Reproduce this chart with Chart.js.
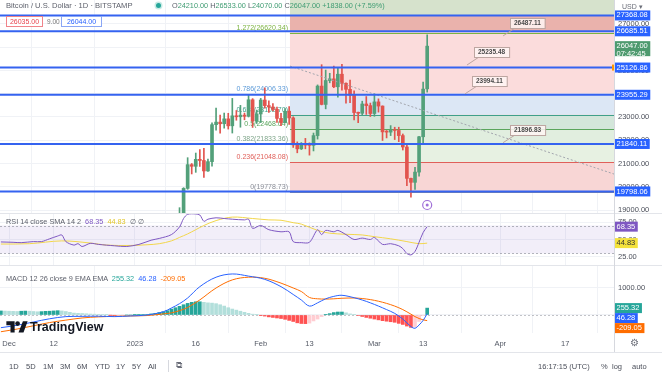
<!DOCTYPE html>
<html>
<head>
<meta charset="utf-8">
<title>BTCUSD 1D</title>
<script src="https://cdn.jsdelivr.net/npm/chart.js@4.4.1/dist/chart.umd.min.js"></script>
<style>
  html, body { margin: 0; padding: 0; background: #fff; }
  #wrap { position: relative; width: 662px; height: 379px; overflow: hidden; font-family: "Liberation Sans", Arial, sans-serif; color: #5d606b; }
  canvas { position: absolute; left: 0; }
  .abs { position: absolute; white-space: nowrap; line-height: 10px; }
  .up { color: #3f9c72; }
  .hline { position: absolute; height: 1px; background: #e3e5ea; }
  .tb { position: absolute; top: 362px; font-size: 7.5px; color: #4a4e59; }
</style>
</head>
<body>
<div id="wrap">
  <canvas id="price" width="662" height="219" style="top:0"></canvas>
  <canvas id="rsi" width="662" height="52" style="top:213px"></canvas>
  <canvas id="macd" width="662" height="87" style="top:265px"></canvas>

  <div class="hline" style="left:0;top:213px;width:662px"></div>
  <div class="hline" style="left:0;top:265px;width:662px"></div>
  <div class="hline" style="left:0;top:352px;width:662px"></div>

  <!-- header -->
  <div class="abs" style="left:6px;top:1px;font-size:7.6px">Bitcoin / U.S. Dollar · 1D · BITSTAMP</div>
  <div class="abs" style="left:156px;top:3px;width:5px;height:5px;border-radius:50%;background:#26a69a;box-shadow:0 0 0 1.5px #c8ebe5"></div>
  <div class="abs" style="left:172px;top:1px;font-size:7.3px">O<span class="up">24210.00</span> H<span class="up">26533.00</span> L<span class="up">24070.00</span> C<span class="up">26047.00</span> <span class="up">+1838.00 (+7.59%)</span></div>
  <div class="abs" style="left:6px;top:16px;width:35px;height:9px;border:1px solid #f0838a;background:#fff;color:#e8434e;font-size:7px;text-align:center;line-height:9px">26035.00</div>
  <div class="abs" style="left:47px;top:17px;font-size:6.5px;color:#777">9.00</div>
  <div class="abs" style="left:61px;top:16px;width:39px;height:9px;border:1px solid #8aa6f5;background:#fff;color:#2962ff;font-size:7px;text-align:center;line-height:9px">26044.00</div>
  <div class="abs" style="left:622px;top:2px;font-size:7px;color:#6a6d78">USD ▾</div>

  <!-- indicator legends -->
  <div class="abs" style="left:6px;top:217px;font-size:7.3px">RSI 14 close SMA 14 2 &nbsp;<span style="color:#7e57c2">68.35</span> &nbsp;<span style="color:#e2c62c">44.83</span> &nbsp;∅ ∅</div>
  <div class="abs" style="left:6px;top:274px;font-size:7.3px">MACD 12 26 close 9 EMA EMA &nbsp;<span style="color:#26a69a">255.32</span> &nbsp;<span style="color:#2962ff">46.28</span> &nbsp;<span style="color:#ff6d00">-209.05</span></div>

  <!-- logo -->
  <div class="abs" style="left:6px;top:320px;height:14px">
    <svg width="22" height="13" viewBox="0 0 36 22" style="vertical-align:top">
      <path d="M14 21H7V9H0V2h14v19zM29 21h-8.5L28 2h8z" fill="#131722"/>
      <circle cx="19" cy="6" r="4" fill="#131722"/>
    </svg>
  </div>
  <div class="abs" style="left:30px;top:320px;font-size:12.5px;font-weight:bold;color:#131722;line-height:14px">TradingView</div>

  <div class="abs" style="left:630px;top:338px;font-size:10px;color:#6a6d78">⚙</div>
  <div class="abs" style="left:614px;top:0;width:1px;height:352px;background:#d6d8de"></div>

  <!-- bottom toolbar -->
  <div class="tb" style="left:9px">1D</div>
  <div class="tb" style="left:26px">5D</div>
  <div class="tb" style="left:43px">1M</div>
  <div class="tb" style="left:60px">3M</div>
  <div class="tb" style="left:77px">6M</div>
  <div class="tb" style="left:95px">YTD</div>
  <div class="tb" style="left:116px">1Y</div>
  <div class="tb" style="left:132px">5Y</div>
  <div class="tb" style="left:148px">All</div>
  <div class="abs" style="left:168px;top:360px;width:1px;height:12px;background:#d6d8de"></div>
  <div class="tb" style="left:176px;font-size:9px;top:360px;color:#6a6d78">⧉</div>
  <div class="tb" style="left:538px">16:17:15 (UTC)</div>
  <div class="tb" style="left:601px">%</div>
  <div class="tb" style="left:612px">log</div>
  <div class="tb" style="left:632px">auto</div>
</div>

<script>
// x values are days counted from 1 Dec 2022
const candleDays = [42,43,44,45,46,47,48,49,50,51,52,53,54,55,56,57,58,59,60,61,62,63,64,65,66,67,68,69,70,71,72,73,74,75,76,77,78,79,80,81,82,83,84,85,86,87,88,89,90,91,92,93,94,95,96,97,98,99,100,101,102,103];
const opens  = [17940,18850,19930,20950,20880,21180,21130,20680,21080,22670,22780,22710,22920,22620,23050,23010,23080,23030,23740,22830,23130,23730,23490,23430,23330,22940,22760,23250,22960,21800,21630,21860,21790,21780,22200,24330,23540,24570,24640,24300,24840,24450,24190,23940,23190,23160,23560,23490,23150,23650,23470,22360,22350,22430,22420,22200,21710,20360,20190,20630,22150,24210];
const highs  = [19100,19960,21250,21000,21450,21600,21650,21190,22750,23380,23080,23170,23160,23800,23280,23500,23170,23960,23790,23300,23800,24250,23690,23580,23430,23160,23360,23450,23010,21930,21900,22080,21890,22310,24380,25250,25020,24880,25190,25120,25260,24470,24590,24130,23210,23680,23880,23600,24000,23780,23480,22420,22630,22560,22560,22270,21820,20370,20840,22170,24500,26533];
const lows   = [17900,18700,19890,20550,20620,20870,20400,20660,20880,22430,22300,22520,22480,22310,22860,22560,22880,23000,22550,22720,22760,23380,23200,23260,22770,22630,22750,22680,21690,21460,21600,21630,21360,21540,22050,23520,23350,24470,24260,23850,24150,23590,23620,22870,22760,23080,23110,23020,23030,23210,21990,22100,22200,22030,21940,21580,20050,19550,19890,20450,21900,24070];
const closes = [18850,19930,20950,20880,21180,21130,20680,21080,22670,22780,22710,22920,22620,23050,23010,23080,23030,23740,22830,23130,23730,23490,23430,23330,22940,22760,23250,22960,21800,21630,21860,21790,21780,22200,24330,23540,24570,24640,24300,24840,24450,24190,23940,23190,23160,23560,23490,23150,23650,23470,22360,22350,22430,22420,22200,21710,20360,20190,20630,22150,24200,26047];

const priceTicks = [19000,20000,21000,22000,23000,24000,25000,26000,27000];
const hLevels = [27368.08, 26685.51, 25126.86, 23955.29, 21840.11, 19798.06];
const lastPrice = 26047.00;
const countdown = '07:42:45';

// position tool zones (start day, price bands)
const toolStartDay = 69.2;
const zoneLows  = [27368.08, 26685.51, 19798.06];
const zoneHighs = [null, 27368.08, 26685.51];

// fibonacci retracement
const fibRatios = [0, 0.236, 0.382, 0.5, 0.618, 0.786, 1.272];
const fibPrices = [19778.73, 21048.08, 21833.36, 22468.04, 23102.70, 24006.33, 26620.34];

// price callouts
const calloutDays   = [121.7, 112.8, 112.3, 121.7];
const calloutPrices = [26487.11, 25235.48, 23994.11, 21896.83];

// dotted trend line
const trendDays   = [69.2, 149.3];
const trendPrices = [25190, 20530];

// RSI
const rsiDays   = [-2,1,3,6,8,10,12,13,14,16,17,18,20,22,26,29,32,35,37,40,42,43,44,46,47,48,49,51,53,55,58,59,60,62,64,67,69,70,72,74,76,77,78,80,81,83,85,87,89,90,92,94,96,97,98,99,100,101,102,103];
const rsiValues = [46.5,46,45.5,47,47,51,55,56.5,47,42,44,40,44.5,43,41,40,43,49,51.5,57,68,80,86,86.5,85,76,79,81,80,79,78,79,66,70,64,61,61,47,45.5,46,64,57,63,61,63,57,50,52,50,53,43,44,41,37,30,28,33,46,60,68.35];
const rsiMaDays   = [-2,5,13,20,24,30,34,37,40,42,44,46,48,51,55,60,64,67,70,72,76,79,83,87,90,94,98,101,103];
const rsiMaValues = [43.5,44,48,45,42,41.5,42.5,44,48,53,58,64,70,77,82,80,78,77.5,74,72,63,59,57.5,56.5,54,51,47,44,44.83];
const rsiTicks = [25, 50, 75];
const rsiBand = [30, 70];

// MACD
const macdDays     = [-2,2,6,10,14,18,22,26,30,34,38,40,42,44,47,51,55,59,63,67,70,72,74,76,78,80,82,85,87,89,91,93,95,97,99,100,101,102,103];
const macdValues   = [-470,-380,-260,-140,-60,-50,-45,-60,-35,0,120,260,420,630,1050,1400,1520,1440,1320,1050,760,555,330,450,600,690,730,640,555,450,330,200,60,-150,-430,-490,-370,-200,46.28];
const signalValues = [-620,-520,-400,-280,-190,-110,-70,-50,-35,-20,40,80,160,280,560,1000,1300,1400,1360,1180,1000,870,650,600,590,600,620,630,610,570,510,430,330,200,30,-60,-130,-180,-209.05];
const histStartDay = -2;
const histValues = [
  150,145,140,135,130,140,145,140,
  130,120,125,135,140,150,160,150,
  130,100,70,60,55,45,35,30,
  25,15,5,-5,-10,-10,-5,0,
  0,5,10,15,20,40,60,90,
  120,160,220,270,320,380,430,470,
  490,490,470,450,440,420,380,330,
  270,220,180,140,100,60,30,10,
  -10,-40,-70,-90,-110,-130,-160,-200,
  -240,-290,-315,-320,-300,-220,-150,-60,
  10,50,90,110,110,80,40,10,
  -20,-55,-90,-120,-150,-180,-210,-230,
  -250,-270,-310,-350,-410,-460,-430,-240,
  -20,255.32
];
const macdTicks = [0, 1000];

// time axis
const xTickDays   = [0, 11, 31, 46, 62, 74, 90, 102, 121, 137];
const xTickLabels = ['Dec', '12', '2023', '16', 'Feb', '13', 'Mar', '13', 'Apr', '17'];

const X_MIN = -2.22, X_MAX = 149.26;
const UP = '#53a07a', DOWN = '#e2544e';
const GRID = '#f0f2f6';
const FONT = '"Liberation Sans", Arial, sans-serif';

Chart.defaults.font.family = FONT;
Chart.defaults.animation = false;

// fixed axis width, and no extra room for half tick labels at the pane edges
const fixWidth = s => { s.width = 47; s.paddingTop = 0; s.paddingBottom = 0; };
const setTicks = vals => s => { s.ticks = vals.map(v => ({ value: v })); };

function xScale(showLabels) {
  return {
    type: 'linear', min: X_MIN, max: X_MAX, offset: false,
    afterBuildTicks: setTicks(xTickDays),
    grid: { color: GRID, drawTicks: false },
    border: { display: false },
    ticks: {
      display: showLabels, maxRotation: 0, autoSkip: false, padding: 6,
      color: '#555a66', font: { size: 7.5 },
      callback: (v) => { const i = xTickDays.indexOf(v); return i >= 0 ? xTickLabels[i] : ''; }
    },
    afterFit: s => { if (showLabels) s.height = 19; s.paddingLeft = 0; s.paddingRight = 0; }
  };
}

function yScale(min, max, ticks, fmt) {
  return {
    position: 'right', min, max,
    afterBuildTicks: setTicks(ticks),
    afterFit: fixWidth,
    grid: { color: GRID, drawTicks: false },
    border: { display: false },
    ticks: { padding: 3, color: '#4b4f5a', font: { size: 7.5 }, callback: fmt }
  };
}

function tag(chart, y, text, bg, fg, sub) {
  const ctx = chart.ctx, x0 = chart.chartArea.right - 1;
  ctx.save();
  ctx.font = '7.5px ' + FONT;
  const w = ctx.measureText(text).width + 5, h = sub ? 15 : 10;
  ctx.fillStyle = bg;
  ctx.fillRect(x0, y - 5, w, h);
  ctx.fillStyle = fg;
  ctx.textBaseline = 'middle';
  ctx.fillText(text, x0 + 2.5, y);
  if (sub) ctx.fillText(sub, x0 + 2.5, y + 7.5);
  ctx.restore();
}

// ---------- price pane ----------
const zoneColors = ['#d6e2cc', '#eab2ac', '#fbdcdc'];
const fibBandColors = ['#f8d6d5', '#e7f1e2', '#e1eedf', '#d3e6da', '#dce7f5'];
const fibLineColors = ['#8a8d96', '#e0605a', '#7fa58a', '#5aa55c', '#3fa08a', '#5b9ad8', '#7cb342'];

const pricePlugin = {
  id: 'pricePane',
  beforeDatasetsDraw(chart) {
    const { ctx, chartArea: a, scales: { x, y } } = chart;
    const X = v => x.getPixelForValue(v), Y = v => y.getPixelForValue(v);
    const x0 = X(toolStartDay);
    ctx.save();
    ctx.beginPath(); ctx.rect(a.left, a.top, a.right - a.left, a.bottom - a.top); ctx.clip();
    zoneLows.forEach((lo, i) => {
      const top = zoneHighs[i] === null ? a.top : Y(zoneHighs[i]);
      ctx.fillStyle = zoneColors[i];
      ctx.fillRect(x0, top, a.right - x0, Y(lo) - top);
    });
    for (let i = 0; i < 5; i++) {
      ctx.fillStyle = fibBandColors[i];
      ctx.fillRect(x0, Y(fibPrices[i + 1]), a.right - x0, Y(fibPrices[i]) - Y(fibPrices[i + 1]));
    }
    ctx.lineWidth = 1;
    fibPrices.forEach((p, i) => {
      ctx.strokeStyle = fibLineColors[i];
      ctx.beginPath(); ctx.moveTo(x0, Math.round(Y(p)) + 0.5); ctx.lineTo(a.right, Math.round(Y(p)) + 0.5); ctx.stroke();
    });
    ctx.font = '7px ' + FONT;
    ctx.textAlign = 'right'; ctx.textBaseline = 'bottom';
    fibPrices.forEach((p, i) => {
      ctx.fillStyle = fibLineColors[i];
      ctx.fillText(fibRatios[i] + '(' + p.toFixed(2) + ')', x0 - 2, Y(p) - 1.5);
    });
    ctx.restore();
  },
  afterDatasetsDraw(chart) {
    const { ctx, chartArea: a, scales: { x, y } } = chart;
    const X = v => x.getPixelForValue(v), Y = v => y.getPixelForValue(v);
    ctx.save();
    ctx.beginPath(); ctx.rect(a.left, a.top, a.right - a.left, a.bottom - a.top); ctx.clip();
    // trend line
    ctx.strokeStyle = '#a3a6ae'; ctx.lineWidth = 1; ctx.setLineDash([2, 2]);
    ctx.beginPath(); ctx.moveTo(X(trendDays[0]), Y(trendPrices[0])); ctx.lineTo(X(trendDays[1]), Y(trendPrices[1])); ctx.stroke();
    ctx.setLineDash([]);
    // horizontal levels
    ctx.strokeStyle = '#3563f0'; ctx.lineWidth = 2;
    hLevels.forEach(p => {
      ctx.beginPath(); ctx.moveTo(a.left, Y(p)); ctx.lineTo(a.right, Y(p)); ctx.stroke();
    });
    // callouts
    ctx.font = 'bold 6.5px ' + FONT;
    ctx.textBaseline = 'middle'; ctx.lineWidth = 1;
    calloutPrices.forEach((p, i) => {
      const ax = X(calloutDays[i]), ay = Y(p);
      const txt = p.toFixed(2);
      const w = ctx.measureText(txt).width + 8, h = 10;
      const bx = Math.round(ax + 7), by = Math.round(ay - 8 - h);
      ctx.strokeStyle = '#bda6a1';
      ctx.beginPath(); ctx.moveTo(ax, ay); ctx.lineTo(bx + 5, by + h); ctx.stroke();
      ctx.fillStyle = 'rgba(255,246,244,0.85)';
      ctx.fillRect(bx, by, w, h);
      ctx.strokeRect(bx + 0.5, by + 0.5, w, h);
      ctx.fillStyle = '#4a4a4a';
      ctx.fillText(txt, bx + 4, by + h / 2 + 0.5);
    });
    // event marker under last candle
    const mx = X(candleDays[candleDays.length - 1]), my = a.bottom - 8;
    ctx.strokeStyle = '#a070d8'; ctx.lineWidth = 1.2; ctx.fillStyle = '#fff';
    ctx.beginPath(); ctx.arc(mx, my, 4.5, 0, Math.PI * 2); ctx.fill(); ctx.stroke();
    ctx.fillStyle = '#a070d8';
    ctx.beginPath(); ctx.arc(mx, my, 1.5, 0, Math.PI * 2); ctx.fill();
    ctx.restore();
  },
  afterDraw(chart) {
    const Y = v => chart.scales.y.getPixelForValue(v);
    hLevels.forEach(p => tag(chart, Y(p), p.toFixed(2), '#2962ff', '#fff'));
    tag(chart, Y(lastPrice), lastPrice.toFixed(2), '#4e9a6f', '#fff', countdown);
    const ctx = chart.ctx;
    ctx.fillStyle = '#ff9800';
    ctx.fillRect(chart.chartArea.right - 3, Y(hLevels[2]) - 3, 2, 6);
  }
};

const candleColors = closes.map((c, i) => c >= opens[i] ? UP : DOWN);

new Chart(document.getElementById('price'), {
  type: 'bar',
  data: {
    datasets: [
      {
        data: candleDays.map((d, i) => ({ x: d, y: [lows[i], highs[i]] })),
        backgroundColor: candleColors, barThickness: 1, grouped: false, order: 2
      },
      {
        data: candleDays.map((d, i) => ({ x: d, y: [opens[i], closes[i]] })),
        backgroundColor: candleColors, barThickness: 3, minBarLength: 1, grouped: false, order: 1
      }
    ]
  },
  options: {
    responsive: false, devicePixelRatio: 1,
    layout: { padding: { top: 0, bottom: 6, left: 0, right: 0 } },
    plugins: { legend: { display: false }, tooltip: { enabled: false } },
    scales: {
      x: xScale(false),
      y: yScale(18871, 28032, priceTicks, v => v.toFixed(2))
    }
  },
  plugins: [pricePlugin]
});

// ---------- RSI pane ----------
const rsiPlugin = {
  id: 'rsiPane',
  beforeDatasetsDraw(chart) {
    const { ctx, chartArea: a, scales: { y } } = chart;
    const top = y.getPixelForValue(rsiBand[1]), bot = y.getPixelForValue(rsiBand[0]);
    ctx.save();
    ctx.fillStyle = 'rgba(126,87,194,0.1)';
    ctx.fillRect(a.left, top, a.right - a.left, bot - top);
    ctx.strokeStyle = 'rgba(120,123,134,0.55)'; ctx.lineWidth = 1; ctx.setLineDash([2, 2]);
    [top, bot].forEach(py => {
      ctx.beginPath(); ctx.moveTo(a.left, Math.round(py) + 0.5); ctx.lineTo(a.right, Math.round(py) + 0.5); ctx.stroke();
    });
    ctx.restore();
  },
  afterDraw(chart) {
    const y = chart.scales.y;
    tag(chart, y.getPixelForValue(rsiValues[rsiValues.length - 1]), rsiValues[rsiValues.length - 1].toFixed(2), '#7e57c2', '#fff');
    tag(chart, y.getPixelForValue(rsiMaValues[rsiMaValues.length - 1]), rsiMaValues[rsiMaValues.length - 1].toFixed(2), '#f4e23c', '#333');
  }
};

new Chart(document.getElementById('rsi'), {
  type: 'line',
  data: {
    datasets: [
      { data: rsiDays.map((d, i) => ({ x: d, y: rsiValues[i] })), borderColor: '#7e57c2', borderWidth: 1, pointRadius: 0, tension: 0.3 },
      { data: rsiMaDays.map((d, i) => ({ x: d, y: rsiMaValues[i] })), borderColor: '#f2d64b', borderWidth: 1, pointRadius: 0, tension: 0.35 }
    ]
  },
  options: {
    responsive: false, devicePixelRatio: 1,
    layout: { padding: 0 },
    plugins: { legend: { display: false }, tooltip: { enabled: false } },
    scales: {
      x: xScale(false),
      y: yScale(13.57, 87.86, rsiTicks, v => v.toFixed(2))
    }
  },
  plugins: [rsiPlugin]
});

// ---------- MACD pane ----------
const histDays = histValues.map((_, i) => histStartDay + i);
const histColors = histValues.map((v, i) => {
  const prev = i > 0 ? histValues[i - 1] : v;
  if (v >= 0) return v >= prev ? '#26a69a' : '#b2dfdb';
  return v < prev ? '#ff5252' : '#ffcdd2';
});

const macdPlugin = {
  id: 'macdPane',
  beforeDatasetsDraw(chart) {
    const { ctx, chartArea: a, scales: { y } } = chart;
    const zy = Math.round(y.getPixelForValue(0)) + 0.5;
    ctx.save();
    ctx.strokeStyle = 'rgba(120,123,134,0.45)'; ctx.setLineDash([2, 2]); ctx.lineWidth = 1;
    ctx.beginPath(); ctx.moveTo(a.left, zy); ctx.lineTo(a.right, zy); ctx.stroke();
    ctx.restore();
  },
  afterDraw(chart) {
    const y = chart.scales.y;
    const items = [
      [histValues[histValues.length - 1], '#26a69a', '#fff'],
      [macdValues[macdValues.length - 1], '#2962ff', '#fff'],
      [signalValues[signalValues.length - 1], '#ff6d00', '#fff']
    ].map(([v, bg, fg]) => ({ v, bg, fg, py: y.getPixelForValue(v) })).sort((p, q) => p.py - q.py);
    for (let i = 1; i < items.length; i++) {
      if (items[i].py < items[i - 1].py + 10) items[i].py = items[i - 1].py + 10;
    }
    items.forEach(it => tag(chart, it.py, it.v.toFixed(2), it.bg, it.fg));
  }
};

new Chart(document.getElementById('macd'), {
  type: 'bar',
  data: {
    datasets: [
      { type: 'line', data: macdDays.map((d, i) => ({ x: d, y: macdValues[i] })), borderColor: '#2962ff', borderWidth: 1, pointRadius: 0, tension: 0.35, order: 1 },
      { type: 'line', data: macdDays.map((d, i) => ({ x: d, y: signalValues[i] })), borderColor: '#ff6d00', borderWidth: 1, pointRadius: 0, tension: 0.35, order: 2 },
      { type: 'bar', data: histDays.map((d, i) => ({ x: d, y: histValues[i] })), backgroundColor: histColors, barThickness: 3, grouped: false, order: 5 }
    ]
  },
  options: {
    responsive: false, devicePixelRatio: 1,
    layout: { padding: 0 },
    plugins: { legend: { display: false }, tooltip: { enabled: false } },
    scales: {
      x: xScale(true),
      y: yScale(-667, 1852, macdTicks, v => v.toFixed(2))
    }
  },
  plugins: [macdPlugin]
});
</script>
</body>
</html>
